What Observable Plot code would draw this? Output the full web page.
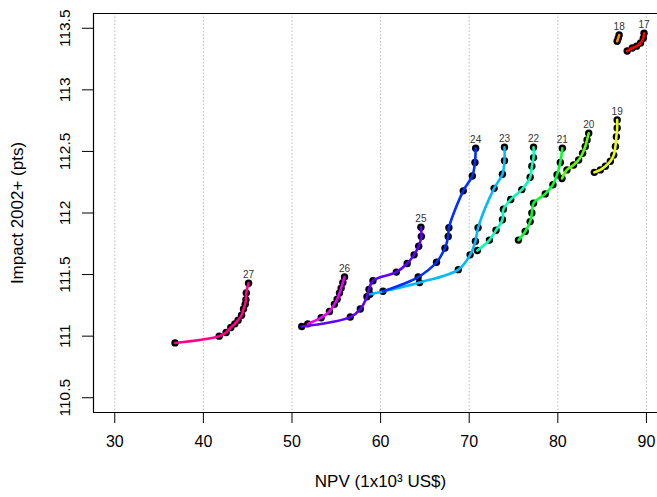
<!DOCTYPE html>
<html>
<head>
<meta charset="utf-8">
<script src="https://cdn.jsdelivr.net/npm/d3@7"></script>
<script src="https://cdn.jsdelivr.net/npm/@observablehq/plot@0.6"></script>
<style>
  html, body { margin: 0; padding: 0; background: #fff; }
  #chart { width: 657px; height: 497px; }
</style>
</head>
<body>
<div id="chart"></div>
<script>
// Series names and colours (R rainbow(11))
const seriesNames = ["17","18","19","20","21","22","23","24","25","26","27"];
const seriesColors = ["#FF0000","#FF8B00","#E8FF00","#5DFF00","#00FF2E","#00FFB9","#00B9FF","#002EFF","#5D00FF","#E800FF","#FF008B"];

// Points [NPV, Impact], first point = labelled top point
const s17 = [[89.73,113.46],[89.65,113.42],[89.34,113.38],[88.89,113.355],[88.4,113.34],[87.83,113.315]];
const s18 = [[86.92,113.445],[86.82,113.42],[86.7,113.395]];
const s19 = [[86.70,112.756],[86.70,112.69],[86.61,112.62],[86.50,112.54],[86.31,112.47],[85.93,112.42],[85.37,112.38],[84.80,112.35],[84.12,112.33]];
const s20 = [[83.49,112.648],[83.30,112.593],[83.10,112.54],[82.8,112.485],[82.35,112.43],[81.78,112.39],[81.03,112.35],[80.47,112.28]];
const s21 = [[80.51,112.526],[80.28,112.41],[79.91,112.31],[79.45,112.23],[78.58,112.155],[77.26,112.08],[77.07,112.0],[76.88,111.93],[76.32,111.85],[75.56,111.78]];
const s22 = [[77.26,112.534],[77.26,112.45],[77.07,112.38],[76.88,112.29],[75.94,112.19],[74.69,112.11],[73.86,112.03],[73.75,111.945],[73.03,111.86],[72.28,111.78],[70.92,111.695]];
const s23 = [[73.98,112.534],[73.98,112.425],[73.75,112.315],[72.81,112.20],[71.0,111.88],[70.7,111.77],[70.1,111.66],[68.77,111.54],[64.4,111.435],[58.8,111.34]];
const s24 = [[70.73,112.526],[70.65,112.41],[70.35,112.30],[69.33,112.18],[67.71,111.88],[67.63,111.81],[67.26,111.715],[66.31,111.60],[64.24,111.48],[60.27,111.365]];
const s25 = [[64.55,111.885],[64.6,111.81],[64.3,111.73],[63.78,111.66],[63.0,111.59],[61.78,111.52],[59.14,111.45],[58.69,111.38],[58.46,111.32],[57.71,111.22],[56.58,111.155],[51.1,111.078]];
const s26 = [[55.93,111.48],[55.74,111.435],[55.55,111.39],[55.36,111.35],[55.10,111.30],[54.79,111.26],[54.23,111.20],[53.29,111.15],[51.78,111.10]];
const s27 = [[45.1,111.43],[44.84,111.35],[44.8,111.295],[44.72,111.26],[44.53,111.22],[44.31,111.17],[43.92,111.13],[43.55,111.10],[43.10,111.07],[42.57,111.03],[41.78,111.0],[36.8,110.945]];

const xTicks = [30, 40, 50, 60, 70, 80, 90];
const yTicks = [110.5, 111, 111.5, 112, 112.5, 113, 113.5];
const yTickLabels = ["110.5", "111", "111.5", "112", "112.5", "113", "113.5"];
const xDomain = [27.6, 91.25];
const yDomain = [110.38, 113.62];

const allSeries = [s17, s18, s19, s20, s21, s22, s23, s24, s25, s26, s27];
const rows = [];
allSeries.forEach((s, i) => s.forEach(([x, y], j) => rows.push({series: seriesNames[i], x, y, idx: j})));
const tops = rows.filter(d => d.idx === 0);

const FONT = "'Liberation Sans', Arial, Helvetica, sans-serif";

const chart = Plot.plot({
  width: 657,
  height: 497,
  marginLeft: 93,
  marginTop: 13,
  marginBottom: 85,
  marginRight: 0,
  style: {fontFamily: FONT, color: "#000", background: "#fff", overflow: "visible"},
  x: {domain: xDomain},
  y: {domain: yDomain},
  color: {domain: seriesNames, range: seriesColors},
  marks: [
    Plot.ruleX(xTicks, {stroke: "#bbbbbb", strokeDasharray: "1.5,2", strokeWidth: 1}),
    Plot.dot(rows, {x: "x", y: "y", r: 3.7, fill: "#000", stroke: "none"}),
    Plot.line(rows, {x: "x", y: "y", z: "series", stroke: "series", strokeWidth: 2.6, curve: "catmull-rom"}),
    Plot.text(tops, {x: "x", y: "y", text: "series", dy: -8, fontSize: 10, fill: "#333"}),
    // box (left, top, bottom)
    Plot.ruleX([xDomain[0]], {stroke: "#000", strokeWidth: 1.2}),
    Plot.ruleY([yDomain[0], yDomain[1]], {stroke: "#000", strokeWidth: 1.2}),
    Plot.axisX(xTicks, {tickSize: 11, tickPadding: 12, fontSize: 16, label: null, tickFormat: d => String(d)}),
    Plot.axisY(yTicks, {tickSize: 11, tickPadding: 13, tickRotate: -90, textAnchor: "middle", fontSize: 15.5, label: null, tickFormat: (d, i) => yTickLabels[i]}),
    Plot.text(["Impact 2002+ (pts)"], {frameAnchor: "left", dx: -76, rotate: -90, textAnchor: "middle", fontSize: 17, fill: "#000"}),
    Plot.text(["NPV (1x10³ US$)"], {frameAnchor: "bottom", dx: 5, dy: 74, fontSize: 17, fill: "#000"})
  ]
});
document.getElementById("chart").appendChild(chart);
</script>
</body>
</html>
